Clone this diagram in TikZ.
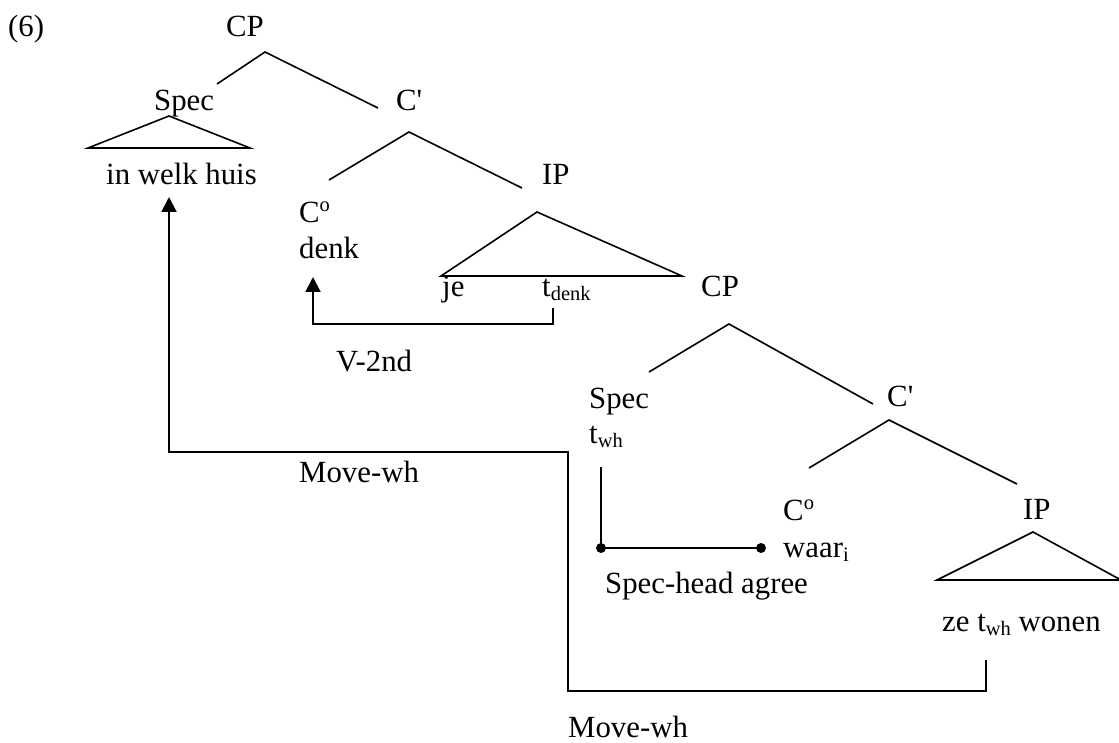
\documentclass[tikz,border=0pt]{standalone}
\usepackage{fontspec}
\setmainfont{Liberation Serif}
\usetikzlibrary{arrows.meta}
\newcommand{\mysub}[1]{\raisebox{-4pt}{\fontsize{20.5}{20.5}\selectfont #1}}
\newcommand{\mysup}[1]{\raisebox{11pt}{\fontsize{20.5}{20.5}\selectfont #1}}
\tikzset{
  lab/.style={anchor=base west, inner sep=0pt, font=\fontsize{30.8}{36}\selectfont},
  branch/.style={line width=1.6pt},
  conn/.style={line width=2pt},
  arr/.style={conn, -{Triangle[width=15pt,length=15pt]}},
  dotend/.style={circle, fill=black, inner sep=0pt, minimum size=10pt}
}
\begin{document}
\begin{tikzpicture}[x=1pt,y=-1pt]
\path[use as bounding box] (0,0) rectangle (1119,743);
% labels
\node[lab] (n6) at (8,37) {(6)};
\node[lab] (cp1) at (226,37) {CP};
\node[lab] (spec1) at (154,111) {Spec};
\node[lab] (cb1) at (396,111) {C\textquotesingle};
\node[lab] (whs) at (106,185) {in welk huis};
\node[lab] (co1) at (299,223) {C\mysup{o}};
\node[lab] (denk) at (299,259) {denk};
\node[lab] (ip1) at (542,185) {IP};
\node[lab] (je) at (442,297) {je};
\node[lab] (tdenk) at (542,297) {t\mysub{denk}};
\node[lab] (cp2) at (701,297) {CP};
\node[lab] (spec2) at (589,408) {Spec};
\node[lab] (twh) at (589,443) {t\mysub{wh}};
\node[lab] (cb2) at (887,406) {C\textquotesingle};
\node[lab] (co2) at (783,520) {C\mysup{o}};
\node[lab] (waar) at (783,557) {waar\mysub{i}};
\node[lab] (ip2) at (1023,519) {IP};
\node[lab] (zetwh) at (942,631) {ze t\mysub{wh} wonen};
\node[lab] (sha) at (605,593) {Spec-head agree};
\node[lab] (v2) at (336,371) {V-2nd};
\node[lab] (mw1) at (299,482) {Move-wh};
\node[lab] (mw2) at (568,737) {Move-wh};
% tree branches
\coordinate (a1) at (265,52);
\draw[branch] (217,84) -- (a1) -- (378,108);
\coordinate (a2) at (409,132);
\draw[branch] (329,180) -- (a2) -- (522,188);
\coordinate (a3) at (729,324);
\draw[branch] (649,372) -- (a3) -- (873,404);
\coordinate (a4) at (889,420);
\draw[branch] (809,468) -- (a4) -- (1017,484);
% triangles
\draw[branch] (169,116) -- (250,148) -- (88,148) -- cycle;
\draw[branch] (537,212) -- (682,276) -- (441,276) -- cycle;
\draw[branch] (1033,532) -- (1121,580) -- (937,580) -- cycle;
% V-2nd
\coordinate (vs) at (553,308);
\coordinate (vt) at (313,277);
\draw[arr] (vs) -- (553,324) -- (313,324) -- (vt);
% Move-wh
\coordinate (ms) at (986,660);
\coordinate (mt) at (169,197);
\draw[arr] (ms) -- (986,691) -- (568,691) -- (568,452) -- (169,452) -- (mt);
% Spec-head agreement
\coordinate (s1) at (601,467);
\node[dotend] (d1) at (601,548) {};
\node[dotend] (d2) at (761,548) {};
\draw[conn] (s1) -- (d1.center) -- (d2.center);
\end{tikzpicture}
\end{document}
